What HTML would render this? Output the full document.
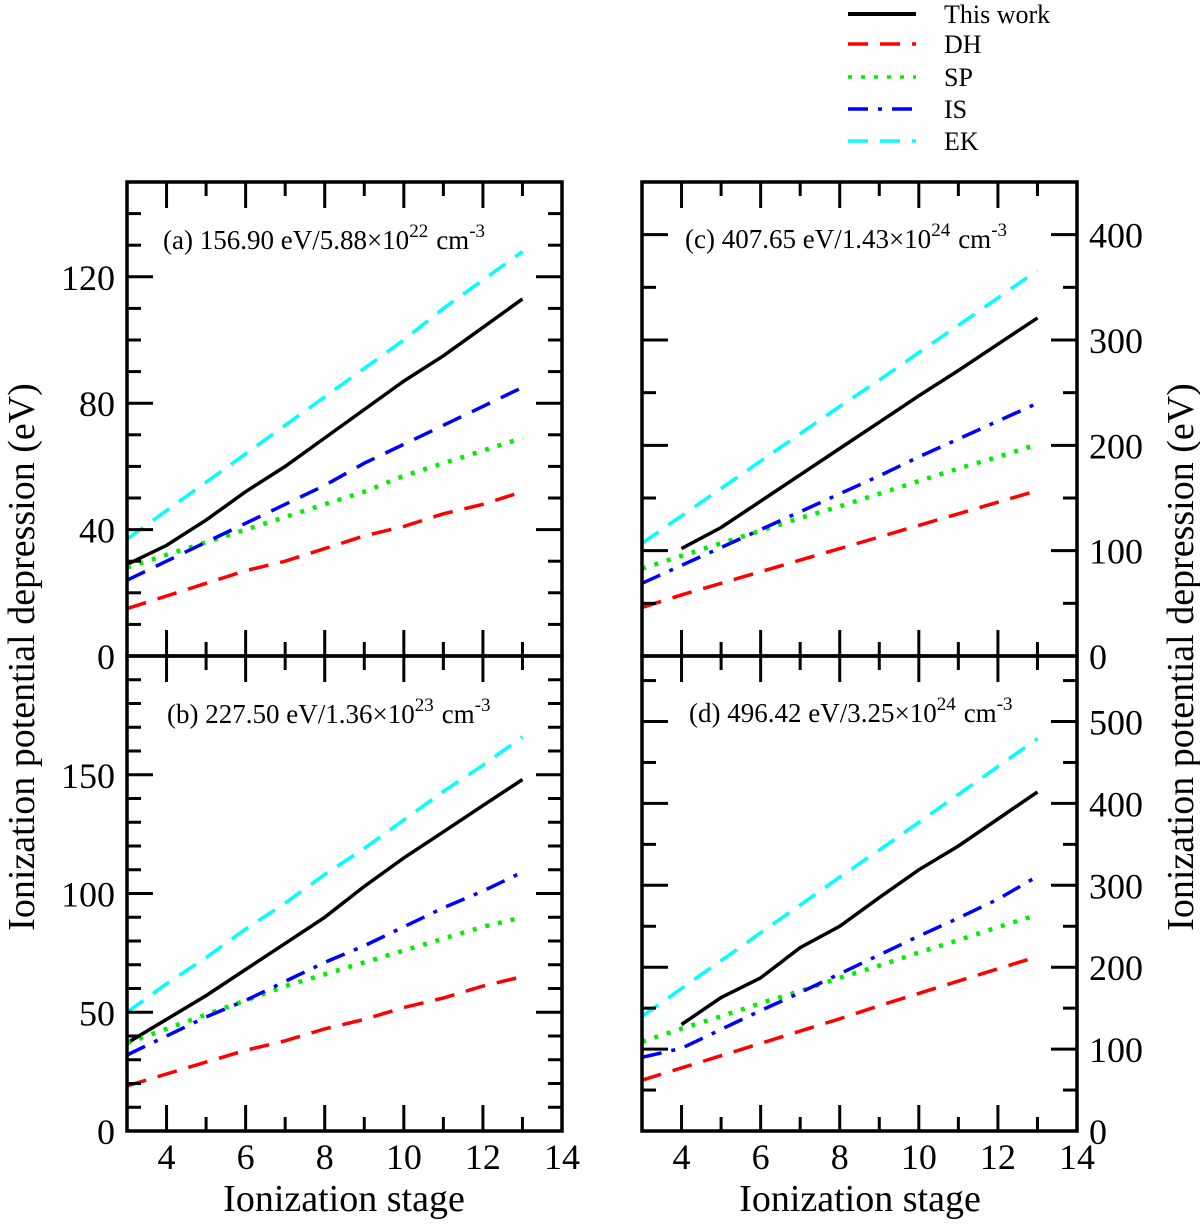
<!DOCTYPE html>
<html><head><meta charset="utf-8"><style>
body{margin:0;background:#fff}
svg{display:block;font-family:"Liberation Serif",serif}
</style></head><body>
<svg id="chart" width="1200" height="1228" viewBox="0 0 1200 1228" xmlns="http://www.w3.org/2000/svg">
<g id="legend"></g>
<g id="plots"></g>
<text transform="translate(34,657) rotate(-90)" text-anchor="middle" font-size="38">Ionization potential depression (eV)</text>
<text transform="translate(1193,657) rotate(-90)" text-anchor="middle" font-size="38">Ionization potential depression (eV)</text>
<text x="344" y="1211" text-anchor="middle" font-size="38">Ionization stage</text>
<text x="860" y="1211" text-anchor="middle" font-size="38">Ionization stage</text>
</svg>
<script>
const stages=[3,4,5,6,7,8,9,10,11,12,13];
const xTicks=[4,5,6,7,8,9,10,11,12,13];
const xTickLabels=[4,6,8,10,12,14];
const seriesNames=["This work","DH","SP","IS","EK"];
const a_black=[29,35,43,52,60,69,78,87,95,104,113];
const a_red=[15,19,23,27,30,34,38,41,45,48,52];
const a_green=[28,32,36,40,44,48,52,57,61,65,69];
const a_blue=[24,30,36,42,48,54,61,67,73,79,85];
const a_cyan=[37,46,55,64,73,82,91,100,110,119,128];
const b_black=[37,47,57,68,79,90,103,115,126,137,148];
const b_red=[19,24,29,34,38,43,47,52,56,61,65];
const b_green=[37,43,49,55,61,66,71,76,81,86,90];
const b_blue=[32,40,48,55,63,71,78,86,94,101,109];
const b_cyan=[50,62,73,85,96,108,119,131,143,154,166];
const c_black=[null,102,122,147,172,197,222,247,271,296,321];
const c_red=[46,58,69,80,91,102,113,124,135,146,157];
const c_green=[83,95,107,119,131,142,154,166,178,189,201];
const c_blue=[69,86,103,120,137,154,171,189,206,223,240];
const c_cyan=[107,133,159,185,211,237,262,288,314,340,366];
const d_black=[null,130,163,187,224,250,285,319,348,381,414];
const d_red=[62,77,92,107,122,137,153,168,183,198,213];
const d_green=[109,125,140,156,171,187,202,218,233,249,264];
const d_blue=[90,101,124,147,169,192,215,238,260,283,311];
const d_cyan=[140,174,208,242,276,310,343,377,411,445,479];
const a_yLabels=[0,40,80,120];
const b_yLabels=[0,50,100,150];
const c_yLabels=[0,100,200,300,400];
const d_yLabels=[0,100,200,300,400,500];

const NS="http://www.w3.org/2000/svg";
function mk(tag,attrs,parent){const e=document.createElementNS(NS,tag);for(const k in attrs)e.setAttribute(k,attrs[k]);parent.appendChild(e);return e;}
const styles=[
 {stroke:"#000",dash:""},
 {stroke:"#ff0000",dash:"20 12"},
 {stroke:"#00ee00",dash:"4 9"},
 {stroke:"#0000ff",dash:"20 10 4 10"},
 {stroke:"#00ffff",dash:"20 12"}];
const panels=[
 {id:"a",x0:127,x1:562,y0:182,y1:656,ymax:150,minor:10,major:40,labels:a_yLabels,side:"left",data:[a_black,a_red,a_green,a_blue,a_cyan],title:["(a) 156.90 eV/5.88×10","22"],tx:163,ty:249,showX:false,blueDash:"20 12"},
 {id:"b",x0:127,x1:562,y0:656,y1:1131,ymax:200,minor:10,major:50,labels:b_yLabels,side:"left",data:[b_black,b_red,b_green,b_blue,b_cyan],title:["(b) 227.50 eV/1.36×10","23"],tx:167,ty:723,showX:true},
 {id:"c",x0:642,x1:1077,y0:182,y1:656,ymax:450,minor:50,major:100,labels:c_yLabels,side:"right",data:[c_black,c_red,c_green,c_blue,c_cyan],title:["(c) 407.65 eV/1.43×10","24"],tx:685,ty:248,showX:false},
 {id:"d",x0:642,x1:1077,y0:656,y1:1131,ymax:580,minor:50,major:100,labels:d_yLabels,side:"right",data:[d_black,d_red,d_green,d_blue,d_cyan],title:["(d) 496.42 eV/3.25×10","24"],tx:689,ty:722,showX:true}];
const plots=document.getElementById("plots");
panels.forEach(p=>{
 const g=mk("g",{},plots);
 
 
 const X=v=>p.x0+(v-3)*(p.x1-p.x0)/11;
 const Y=v=>p.y1-v*(p.y1-p.y0)/p.ymax;
 p.data.forEach((arr,si)=>{
  let d="";let started=false;
  arr.forEach((v,i)=>{if(v==null)return;d+=(started?"L":"M")+X(stages[i]).toFixed(1)+","+Y(v).toFixed(1);started=true;});
  let dash=styles[si].dash; if(si===3&&p.blueDash)dash=p.blueDash;
  const path=mk("path",{d:d,fill:"none",stroke:styles[si].stroke,"stroke-width":si===2?4.5:3.5,"stroke-dasharray":dash},g);
  
  
 });
 const fr=mk("rect",{x:p.x0,y:p.y0,width:p.x1-p.x0,height:p.y1-p.y0,fill:"none",stroke:"#000","stroke-width":3.5},g);
 
 
 for(let v=p.minor;v<p.ymax;v+=p.minor){
  const len=(v%p.major===0)?26:14;const y=Y(v);
  mk("line",{x1:p.x0,x2:p.x0+len,y1:y,y2:y,stroke:"#000","stroke-width":3},g);
  mk("line",{x1:p.x1,x2:p.x1-len,y1:y,y2:y,stroke:"#000","stroke-width":3},g);
 }
 xTicks.forEach(v=>{
  const len=(v%2===0)?26:14;const x=X(v);
  mk("line",{x1:x,x2:x,y1:p.y1,y2:p.y1-len,stroke:"#000","stroke-width":3},g);
  mk("line",{x1:x,x2:x,y1:p.y0,y2:p.y0+len,stroke:"#000","stroke-width":3},g);
 });
 p.labels.forEach(v=>{
  const t=mk("text",{x:p.side==="left"?p.x0-12:p.x1+12,y:Y(v)+13,"text-anchor":p.side==="left"?"end":"start","font-size":36},g);
  t.textContent=v;
  
  
 });
 if(p.showX){
  xTickLabels.forEach(v=>{
   const t=mk("text",{x:X(v),y:1169,"text-anchor":"middle","font-size":36},g);
   t.textContent=v;
   
   
  });
 }
 const tt=mk("text",{x:p.tx,y:p.ty,"font-size":27},g);
 
 
 tt.appendChild(document.createTextNode(p.title[0]));
 const s1=mk("tspan",{dy:-12,"font-size":19},tt);s1.textContent=p.title[1];
 const s2=mk("tspan",{dy:12,dx:8},tt);s2.textContent="cm";
 const s3=mk("tspan",{dy:-12,"font-size":19},tt);s3.textContent="-3";
});
const lg=document.getElementById("legend");
const legendY=[14,44,77,109,141];
seriesNames.forEach((n,i)=>{
 const l=mk("line",{x1:848,x2:916,y1:legendY[i],y2:legendY[i],stroke:styles[i].stroke,"stroke-width":i===0?4:3.5,"stroke-dasharray":styles[i].dash},lg);
 
 
 const t=mk("text",{x:944,y:legendY[i]+9,"font-size":26},lg);
 t.textContent=n;
 
 
});
</script>
</body></html>
